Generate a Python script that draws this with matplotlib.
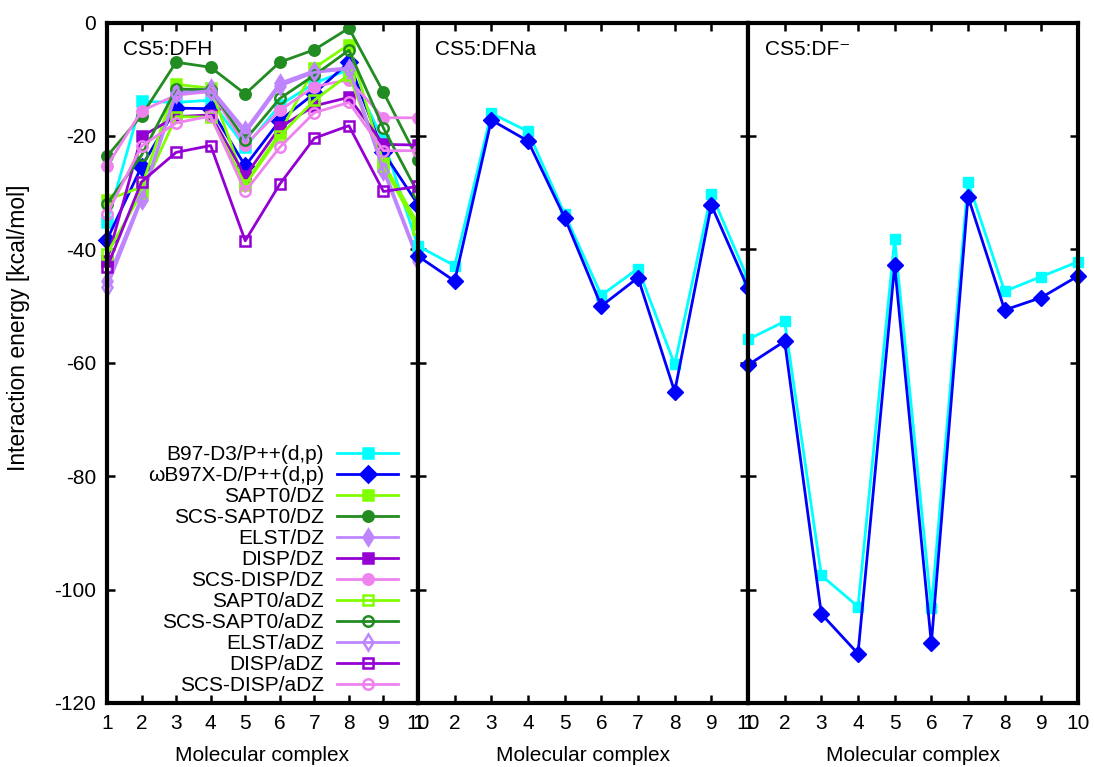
import numpy as np
import matplotlib
matplotlib.use('Agg')
import matplotlib.pyplot as plt

plt.rcParams['font.family'] = ['Liberation Sans', 'DejaVu Sans']
plt.rcParams['axes.unicode_minus'] = False
plt.rcParams['font.size'] = 15

# molecular complex index
complexes = np.arange(1, 11)

# CS5:DFH - all methods
b97_dfh = [-35.2, -13.9, -14.1, -13.7, -22.0, -14.6, -10.7, -8.3, -20.8, -39.5]
wb97_dfh = [-38.3, -25.4, -15.1, -15.2, -25.3, -17.3, -12.5, -7.0, -22.9, -32.1]
sapt0_dz = [-31.3, -29.0, -10.9, -11.6, -28.3, -19.5, -8.0, -3.9, -24.8, -35.5]
scs_sapt0_dz = [-23.6, -16.4, -7.0, -7.9, -12.6, -7.0, -4.8, -1.0, -12.3, -24.2]
elst_dz = [-45.5, -30.8, -12.3, -11.6, -19.0, -10.7, -8.5, -8.0, -25.6, -41.5]
disp_dz = [-42.0, -20.1, -16.6, -16.3, -27.1, -18.5, -14.7, -13.2, -21.5, -21.6]
scs_disp_dz = [-25.3, -15.6, -12.8, -12.2, -21.6, -15.5, -11.3, -10.1, -16.8, -16.8]
sapt0_adz = [-40.8, -30.0, -16.6, -16.7, -28.6, -20.0, -13.7, -9.2, -25.3, -36.5]
scs_sapt0_adz = [-32.0, -23.4, -11.7, -11.9, -20.7, -13.4, -9.3, -4.9, -18.6, -30.1]
elst_adz = [-46.7, -31.3, -12.6, -12.0, -19.5, -11.2, -8.8, -8.2, -26.2, -42.0]
disp_adz = [-43.2, -28.1, -22.9, -21.7, -38.5, -28.5, -20.4, -18.2, -29.8, -28.9]
scs_disp_adz = [-33.8, -21.8, -17.7, -16.5, -29.8, -22.0, -15.9, -14.1, -22.6, -22.6]

# CS5:DFNa
b97_dfna = [-39.4, -42.9, -16.0, -19.2, -33.8, -48.1, -43.4, -60.3, -30.2, -45.3]
wb97_dfna = [-41.2, -45.6, -17.2, -20.9, -34.4, -50.0, -45.0, -65.1, -32.2, -46.9]

# CS5:DF-
b97_df = [-55.9, -52.7, -97.5, -103.0, -38.2, -103.3, -28.1, -47.4, -44.8, -42.2]
wb97_df = [-60.4, -56.2, -104.3, -111.3, -42.8, -109.5, -30.7, -50.7, -48.5, -44.7]

labels = ['B97-D3/P++(d,p)', 'ωB97X-D/P++(d,p)', 'SAPT0/DZ', 'SCS-SAPT0/DZ',
          'ELST/DZ', 'DISP/DZ', 'SCS-DISP/DZ', 'SAPT0/aDZ', 'SCS-SAPT0/aDZ',
          'ELST/aDZ', 'DISP/aDZ', 'SCS-DISP/aDZ']
dfh_data = [b97_dfh, wb97_dfh, sapt0_dz, scs_sapt0_dz, elst_dz, disp_dz, scs_disp_dz,
            sapt0_adz, scs_sapt0_adz, elst_adz, disp_adz, scs_disp_adz]

c_cyan = '#00ffff'
c_blue = '#0000ff'
c_lgreen = '#7fff00'
c_dgreen = '#228b22'
c_lav = '#bf85ff'
c_viol = '#9400d3'
c_pink = '#ee82ee'
colors = [c_cyan, c_blue, c_lgreen, c_dgreen, c_lav, c_viol, c_pink,
          c_lgreen, c_dgreen, c_lav, c_viol, c_pink]
markers = ['s', 'D', 's', 'o', 'd', 's', 'o', 's', 'o', 'd', 's', 'o']
msizes = [7.5, 8.5, 7.5, 7.5, 8, 7.5, 7.5, 7.5, 7.5, 8, 7.5, 7.5]
filled = [True] * 7 + [False] * 5

fig = plt.figure(figsize=(10.94, 7.67), dpi=100)
W, H = 1094, 767
top, bot = 22.5, 703
ax1 = fig.add_axes([107 / W, 1 - bot / H, 311 / W, (bot - top) / H])
ax2 = fig.add_axes([418 / W, 1 - bot / H, 330 / W, (bot - top) / H])
ax3 = fig.add_axes([748 / W, 1 - bot / H, 330 / W, (bot - top) / H])


def style(ax, title, show_y):
    ax.set_xlim(1, 10)
    ax.set_ylim(-120, 0)
    ax.set_xticks(complexes)
    ax.set_yticks(np.arange(-120, 1, 20))
    ax.tick_params(direction='in', top=True, right=True, length=6, width=1.8,
                   labelsize=15, pad=8, labelleft=show_y)
    for s in ax.spines.values():
        s.set_linewidth(3)
    ax.set_xlabel('Molecular complex', fontsize=15, labelpad=9)
    ax.text(0.05, 0.96, title, transform=ax.transAxes, fontsize=15, va='center')


for i in range(len(labels)):
    ax1.plot(complexes, dfh_data[i], color=colors[i], marker=markers[i],
             markersize=msizes[i], lw=2,
             markerfacecolor=colors[i] if filled[i] else 'none',
             markeredgewidth=1.8, label=labels[i], clip_on=False)

ax2.plot(complexes, b97_dfna, color=c_cyan, marker='s', markersize=7.5, lw=2, clip_on=False)
ax2.plot(complexes, wb97_dfna, color=c_blue, marker='D', markersize=8.5, lw=2, clip_on=False)
ax3.plot(complexes, b97_df, color=c_cyan, marker='s', markersize=7.5, lw=2, clip_on=False)
ax3.plot(complexes, wb97_df, color=c_blue, marker='D', markersize=8.5, lw=2, clip_on=False)

style(ax1, 'CS5:DFH', True)
style(ax2, 'CS5:DFNa', False)
style(ax3, 'CS5:DF⁻', False)

fig.text(19 / W, 1 - 328 / H, 'Interaction energy [kcal/mol]', rotation=90,
         ha='center', va='center', fontsize=16.5)

# markerfirst=False gives gnuplot-like right-aligned keys
ax1.legend(loc='lower right', bbox_to_anchor=(0.935, 0.012), frameon=False,
           markerfirst=False, fontsize=15, handlelength=2.9, handletextpad=0.65,
           labelspacing=0.095, borderpad=0, borderaxespad=0)

fig.savefig('out.png', dpi=100)
